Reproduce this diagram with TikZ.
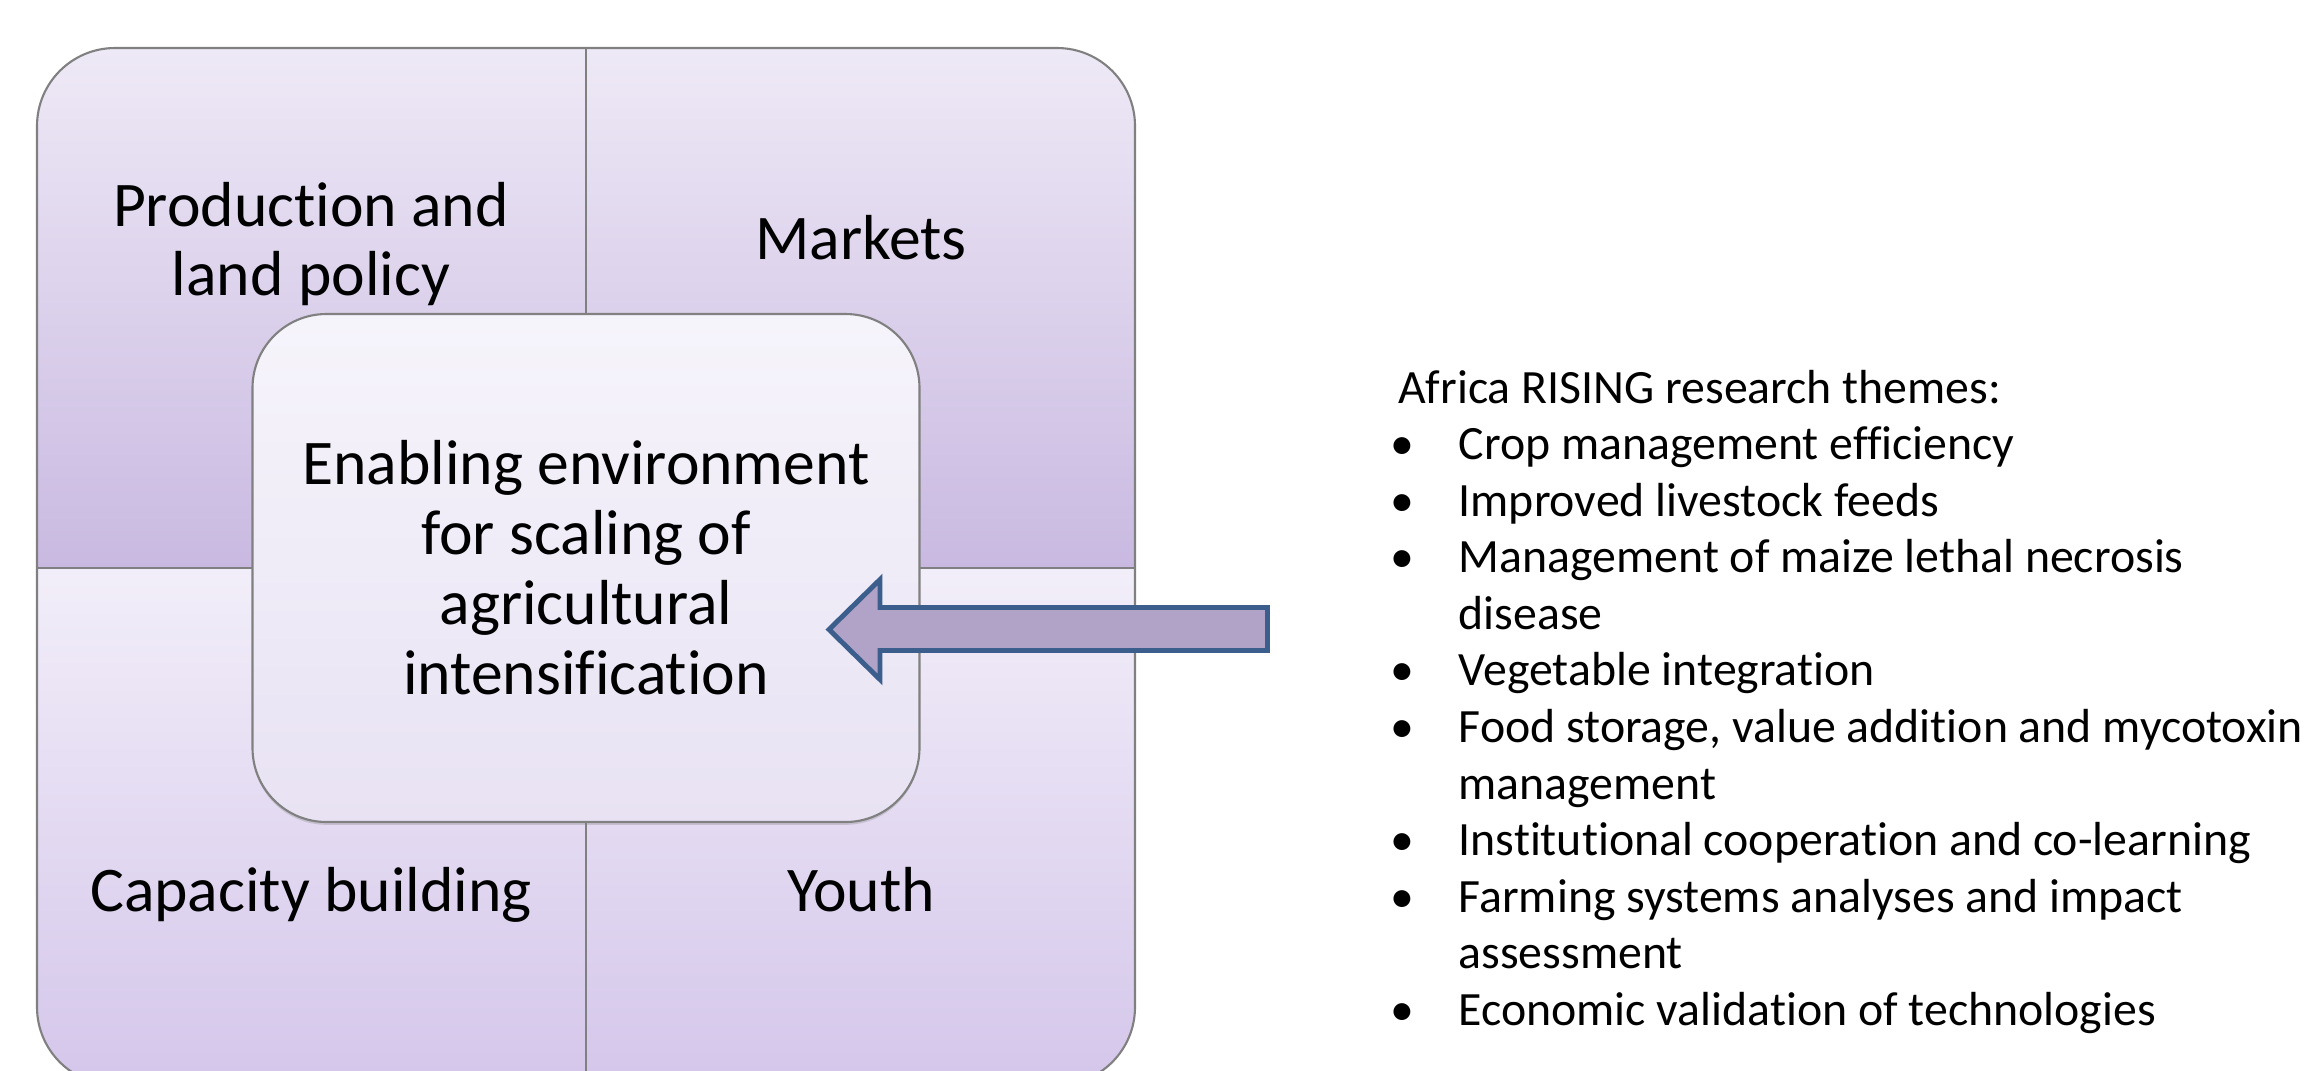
\documentclass[tikz,border=0pt]{standalone}
\usepackage{fontspec}
\setmainfont{Carlito}[Ligatures=NoCommon]
\usetikzlibrary{shadows}
\def\outerRad{0.78cm}
\def\innerRad{0.74cm}
\definecolor{quadTopA}{HTML}{EEE9F6}
\definecolor{quadTopB}{HTML}{C9B9E1}
\definecolor{quadLowA}{HTML}{F2EEF9}
\definecolor{quadLowB}{HTML}{D4C6EA}
\definecolor{midTop}{HTML}{F6F4FB}
\definecolor{midBot}{HTML}{E8E2F3}
\definecolor{arrowFill}{HTML}{B1A2C7}
\definecolor{arrowLine}{HTML}{3B5E8C}
\definecolor{frameGray}{HTML}{808080}

\begin{document}
\begin{tikzpicture}
    \tikzstyle{frame}=[draw=frameGray, line width=0.6pt]
    \tikzstyle{quad label}=[inner sep=0pt, font=\fontsize{18.1}{19.9}\selectfont, align=center]
    \tikzstyle{mid box}=[frame, rounded corners=\innerRad, minimum width=6.67cm, minimum height=5.08cm, top color=midTop, bottom color=midBot, align=center, inner sep=0pt, font=\fontsize{18.1}{19.9}\selectfont, drop shadow={shadow xshift=0pt, shadow yshift=-0.8pt, opacity=0.3}]
    \tikzstyle{themes}=[inner sep=0pt, anchor=base west, font=\fontsize{13.6}{16.1}\selectfont]
    \tikzstyle{block arrow}=[draw=arrowLine, fill=arrowFill, line width=1.4pt, line join=miter]

    \useasboundingbox (0,0) rectangle (23.09,-10.70);

    % Draw the quadrant background
    \begin{scope}
        \clip[rounded corners=\outerRad] (0.37,-0.48) rectangle (11.35,-10.85);
        \shade[top color=quadTopA, bottom color=quadTopB] (0.37,-0.48) rectangle (11.35,-5.68);
        \shade[top color=quadLowA, bottom color=quadLowB] (0.37,-5.68) rectangle (11.35,-10.85);
    \end{scope}
    \draw[frame] (5.86,-0.48) -- (5.86,-10.85);
    \draw[frame] (0.37,-5.68) -- (11.35,-5.68);
    \draw[frame, rounded corners=\outerRad] (0.37,-0.48) rectangle (11.35,-10.85);

    % Quadrant labels
    \node[quad label] (prod) at (3.11,-2.44) {Production and\\land policy};
    \node[quad label, anchor=base] (markets) at (8.61,-2.59) {Markets};
    \node[quad label, anchor=base] (capacity) at (3.11,-9.11) {Capacity building};
    \node[quad label, anchor=base] (youth) at (8.61,-9.11) {Youth};

    % Draw the centre box
    \node[mid box] (middle) at (5.86,-5.68) {Enabling environment\\for scaling of\\agricultural\\intensification};

    % Block arrow
    \draw[block arrow] (8.29,-6.295) -- (8.80,-5.795) -- (8.80,-6.075) -- (12.675,-6.075)
        -- (12.675,-6.505) -- (8.80,-6.505) -- (8.80,-6.795) -- cycle;

    % Research themes
    \node[themes] (list) at (13.975,-4.03) {\renewcommand{\arraystretch}{1}%
      \begin{tabular}[t]{@{}p{0.605cm}@{}l@{}}
      \multicolumn{2}{@{}l@{}}{Africa RISING research themes:}\\
      \hspace*{-0.08cm}\textbullet & Crop management efficiency\\
      \hspace*{-0.08cm}\textbullet & Improved livestock feeds\\
      \hspace*{-0.08cm}\textbullet & Management of maize lethal necrosis\\
       & disease\\
      \hspace*{-0.08cm}\textbullet & Vegetable integration\\
      \hspace*{-0.08cm}\textbullet & Food storage, value addition and mycotoxin\\
       & management\\
      \hspace*{-0.08cm}\textbullet & Institutional cooperation and co-learning\\
      \hspace*{-0.08cm}\textbullet & Farming systems analyses and impact\\
       & assessment\\
      \hspace*{-0.08cm}\textbullet & Economic validation of technologies
      \end{tabular}};
\end{tikzpicture}
\end{document}
